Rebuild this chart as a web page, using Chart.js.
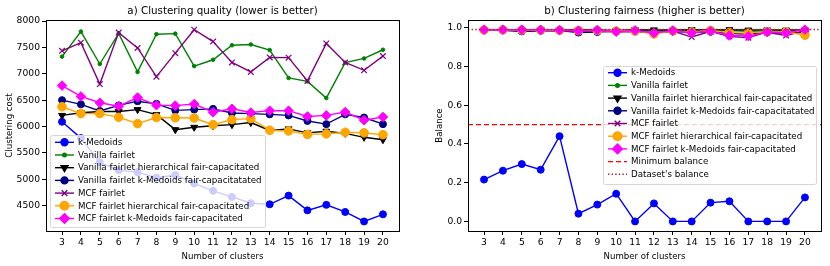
<!DOCTYPE html>
<html>
<head>
<meta charset="utf-8">
<script src="https://cdn.jsdelivr.net/npm/chart.js@4.4.0/dist/chart.umd.min.js"></script>
<style>
    body { margin: 0; background: #fff; }
    #wrap { position: relative; width: 830px; height: 266px; }
    #quality-canvas-box { position: absolute; left: 0; top: 0; width: 415px; height: 266px; }
    #fairness-canvas-box { position: absolute; left: 415px; top: 0; width: 415px; height: 266px; }
</style>
</head>
<body>
<div id="wrap">
    <div id="quality-canvas-box"><canvas id="quality-chart" width="415" height="266"></canvas></div>
    <div id="fairness-canvas-box"><canvas id="fairness-chart" width="415" height="266"></canvas></div>
</div>
<script>
const clusters = [3, 4, 5, 6, 7, 8, 9, 10, 11, 12, 13, 14, 15, 16, 17, 18, 19, 20];
const seriesNames = [
    "k-Medoids",
    "Vanilla fairlet",
    "Vanilla fairlet hierarchical fair-capacitated",
    "Vanilla fairlet k-Medoids fair-capacitatated",
    "MCF fairlet",
    "MCF fairlet hierarchical fair-capacitated",
    "MCF fairlet k-Medoids fair-capacitated"
];

// a) clustering cost
const costKMedoids = [6090, 5780, 5320, 5170, 5135, 5030, 5080, 4920, 4780, 4665, 4545, 4525, 4690, 4410, 4515, 4380, 4200, 4335];
const costVanilla = [7325, 7800, 7185, 7765, 7035, 7750, 7760, 7145, 7265, 7540, 7555, 7450, 6920, 6855, 6540, 7210, 7290, 7455];
const costVanillaHier = [6210, 6260, 6285, 6285, 6320, 6225, 5940, 5985, 6015, 6035, 6075, 5925, 5955, 5880, 5910, 5870, 5795, 5750];
const costVanillaKMed = [6500, 6420, 6295, 6400, 6480, 6430, 6305, 6320, 6335, 6255, 6245, 6230, 6210, 6105, 6045, 6230, 6170, 6045];
const costMCF = [7435, 7590, 6805, 7780, 7490, 6945, 7390, 7835, 7610, 7215, 7035, 7310, 7305, 6865, 7575, 7215, 7065, 7335];
const costMCFHier = [6375, 6245, 6245, 6175, 6055, 6170, 6165, 6160, 6035, 6130, 6150, 5930, 5915, 5850, 5860, 5890, 5880, 5845];
const costMCFKMed = [6775, 6570, 6450, 6385, 6550, 6405, 6395, 6425, 6270, 6335, 6265, 6300, 6300, 6190, 6210, 6275, 6120, 6180];
const costTicks = [4500, 5000, 5500, 6000, 6500, 7000, 7500, 8000];

// b) balance
const balKMedoids = [0.216, 0.262, 0.296, 0.267, 0.440, 0.040, 0.087, 0.143, 0.0, 0.093, 0.0, 0.0, 0.097, 0.104, 0.0, 0.0, 0.0, 0.124];
const balVanilla = [0.988, 0.989, 0.986, 0.987, 0.988, 0.986, 0.985, 0.984, 0.986, 0.985, 0.984, 0.986, 0.983, 0.985, 0.982, 0.984, 0.983, 0.985];
const balVanillaHier = [0.990, 0.990, 0.989, 0.990, 0.989, 0.990, 0.989, 0.986, 0.990, 0.989, 0.988, 0.990, 0.989, 0.990, 0.988, 0.989, 0.988, 0.989];
const balVanillaKMed = [0.988, 0.987, 0.981, 0.984, 0.986, 0.975, 0.978, 0.983, 0.981, 0.974, 0.980, 0.976, 0.979, 0.970, 0.968, 0.975, 0.972, 0.975];
const balMCF = [0.987, 0.988, 0.985, 0.986, 0.984, 0.982, 0.983, 0.978, 0.980, 0.974, 0.983, 0.952, 0.982, 0.955, 0.949, 0.977, 0.960, 0.985];
const balMCFHier = [0.989, 0.990, 0.988, 0.988, 0.987, 0.985, 0.986, 0.983, 0.984, 0.968, 0.984, 0.978, 0.986, 0.975, 0.972, 0.980, 0.978, 0.962];
const balMCFKMed = [0.990, 0.990, 0.990, 0.989, 0.988, 0.985, 0.988, 0.980, 0.986, 0.973, 0.985, 0.974, 0.983, 0.960, 0.957, 0.978, 0.974, 0.990];
const minBalance = 0.5;
const datasetBalance = 0.991;
const balanceTicks = [0.0, 0.2, 0.4, 0.6, 0.8, 1.0];

const xMin = 2.15;
const xMax = 20.85;
const fontFamily = "'DejaVu Sans', sans-serif";

// marker style for each series, in the same order as seriesNames
const seriesStyles = [
    {color: "#0000ff", pointStyle: "circle", radius: 3.5, rotation: 0},
    {color: "#008000", pointStyle: "circle", radius: 1.8, rotation: 0},
    {color: "#000000", pointStyle: "triangle", radius: 4, rotation: 180},
    {color: "#000080", pointStyle: "circle", radius: 3.5, rotation: 0},
    {color: "#800080", pointStyle: "crossRot", radius: 4, rotation: 0},
    {color: "#ffa500", pointStyle: "circle", radius: 4.3, rotation: 0},
    {color: "#ff00ff", pointStyle: "rectRot", radius: 4.8, rotation: 0}
];

function toPoints(values){
    return values.map((v, i) => ({x: clusters[i], y: v}));
};

function makeDatasets(seriesValues){
    return seriesValues.map((values, i) => {
        const style = seriesStyles[i];
        return {
            label: seriesNames[i],
            data: toPoints(values),
            borderColor: style.color,
            backgroundColor: style.color,
            borderWidth: 1.4,
            pointStyle: style.pointStyle,
            pointRadius: style.radius,
            pointRotation: style.rotation,
            pointBorderWidth: style.pointStyle === "crossRot" ? 1.2 : 1,
            pointBorderColor: style.color,
            pointBackgroundColor: style.color,
            tension: 0,
            order: 20 - i,
        };
    });
};

function hLine(label, value, color, dash, i){
    return {
        label: label,
        data: [{x: xMin, y: value}, {x: xMax, y: value}],
        borderColor: color,
        backgroundColor: color,
        borderWidth: 1.4,
        borderDash: dash,
        pointRadius: 0,
        order: 20 - i,
    };
};

// title centred on the plot, box around the plot area, legend inside it
const frameAndLegend = {
    id: "frameAndLegend",
    afterDatasetsDraw(chart, args, opts){
        const ctx = chart.ctx;
        const area = chart.chartArea;
        ctx.save();
        ctx.strokeStyle = "#000";
        ctx.lineWidth = 1;
        ctx.strokeRect(Math.round(area.left) + 0.5, Math.round(area.top) + 0.5,
            Math.round(area.right - area.left), Math.round(area.bottom - area.top));

        ctx.fillStyle = "#000";
        ctx.font = "10.3px " + fontFamily;
        ctx.textAlign = "center";
        ctx.textBaseline = "middle";
        ctx.fillText(opts.title, (area.left + area.right) / 2, 11);

        // legend
        const box = opts.box;
        ctx.globalAlpha = 0.8;
        ctx.fillStyle = "#fff";
        ctx.beginPath();
        ctx.roundRect(box.x + 0.5, box.y + 0.5, box.w, box.h, 2);
        ctx.fill();
        ctx.globalAlpha = 1;
        ctx.strokeStyle = "#d6d6d6";
        ctx.stroke();

        ctx.font = "8.7px " + fontFamily;
        ctx.textBaseline = "middle";
        ctx.textAlign = "left";
        chart.data.datasets.forEach((ds, i) => {
            const y = box.firstY + i * box.rowH;
            const x0 = box.x + 5;
            const x1 = box.x + 24;
            ctx.strokeStyle = ds.borderColor;
            ctx.lineWidth = 1.4;
            ctx.setLineDash(ds.borderDash || []);
            ctx.beginPath();
            ctx.moveTo(x0, y);
            ctx.lineTo(x1, y);
            ctx.stroke();
            ctx.setLineDash([]);
            if (ds.pointRadius){
                ctx.fillStyle = ds.borderColor;
                ctx.strokeStyle = ds.borderColor;
                Chart.helpers.drawPoint(ctx, {
                    pointStyle: ds.pointStyle,
                    rotation: ds.pointRotation,
                    radius: ds.pointRadius,
                    borderWidth: ds.pointBorderWidth,
                }, (x0 + x1) / 2, y);
            }
            ctx.fillStyle = "#000";
            ctx.fillText(ds.label, box.x + 28, y + 0.5);
        });
        ctx.restore();
    }
};

function chartOptions(title, yTitle, yMin, yMax, yTicks, padLeft, yWidth, padRight, legendBox){
    return {
        responsive: false,
        animation: false,
        layout: {
            padding: {left: padLeft, right: padRight, top: 20, bottom: 0}
        },
        scales: {
            x: {
                type: "linear",
                min: xMin,
                max: xMax,
                afterBuildTicks: (scale) => {
                    scale.ticks = clusters.map(v => ({value: v}));
                },
                afterFit: (scale) => {
                    scale.height = 35;
                },
                ticks: {
                    color: "#000",
                    padding: 2,
                    autoSkip: false,
                    maxRotation: 0,
                    font: {family: fontFamily, size: 9.2},
                },
                grid: {
                    display: true,
                    drawOnChartArea: false,
                    tickLength: 4,
                    color: "#000",
                },
                border: {display: true, color: "#000"},
                title: {
                    display: true,
                    text: "Number of clusters",
                    color: "#000",
                    padding: {top: 1, bottom: 4},
                    font: {family: fontFamily, size: 8.6},
                }
            },
            y: {
                min: yMin,
                max: yMax,
                afterBuildTicks: (scale) => {
                    scale.ticks = yTicks.map(v => ({value: v}));
                },
                afterFit: (scale) => {
                    scale.width = yWidth;
                },
                ticks: {
                    color: "#000",
                    padding: 2,
                    font: {family: fontFamily, size: 9.2},
                    callback: (v) => (yMax < 2 ? v.toFixed(1) : v),
                },
                grid: {
                    display: true,
                    drawOnChartArea: false,
                    tickLength: 4,
                    color: "#000",
                },
                border: {display: true, color: "#000"},
                title: {
                    display: true,
                    text: yTitle,
                    color: "#000",
                    padding: {top: 2, bottom: 2},
                    font: {family: fontFamily, size: 8.6},
                }
            }
        },
        plugins: {
            legend: {display: false},
            tooltip: {enabled: false},
            title: {display: false},
            frameAndLegend: {box: legendBox, title: title}
        }
    };
};

new Chart(document.querySelector("#quality-chart"), {
    type: "line",
    data: {
        datasets: makeDatasets([costKMedoids, costVanilla, costVanillaHier, costVanillaKMed, costMCF, costMCFHier, costMCFKMed])
    },
    options: chartOptions("a) Clustering quality (lower is better)", "Clustering cost",
        4019, 8019, costTicks, 3, 43, 16,
        {x: 50, y: 135, w: 215, h: 92, firstY: 142.3, rowH: 12.7}),
    plugins: [frameAndLegend]
});

const fairnessDatasets = makeDatasets([balKMedoids, balVanilla, balVanillaHier, balVanillaKMed, balMCF, balMCFHier, balMCFKMed]);
fairnessDatasets.push(hLine("Minimum balance", minBalance, "#ff0000", [5, 3], 7));
fairnessDatasets.push(hLine("Dataset's balance", datasetBalance, "#a52a2a", [1.4, 2.2], 8));

new Chart(document.querySelector("#fairness-chart"), {
    type: "line",
    data: {datasets: fairnessDatasets},
    options: chartOptions("b) Clustering fairness (higher is better)", "Balance",
        -0.0495, 1.04, balanceTicks, 18, 35, 9,
        {x: 188, y: 66, w: 213, h: 118, firstY: 72.7, rowH: 12.7}),
    plugins: [frameAndLegend]
});
</script>
</body>
</html>
